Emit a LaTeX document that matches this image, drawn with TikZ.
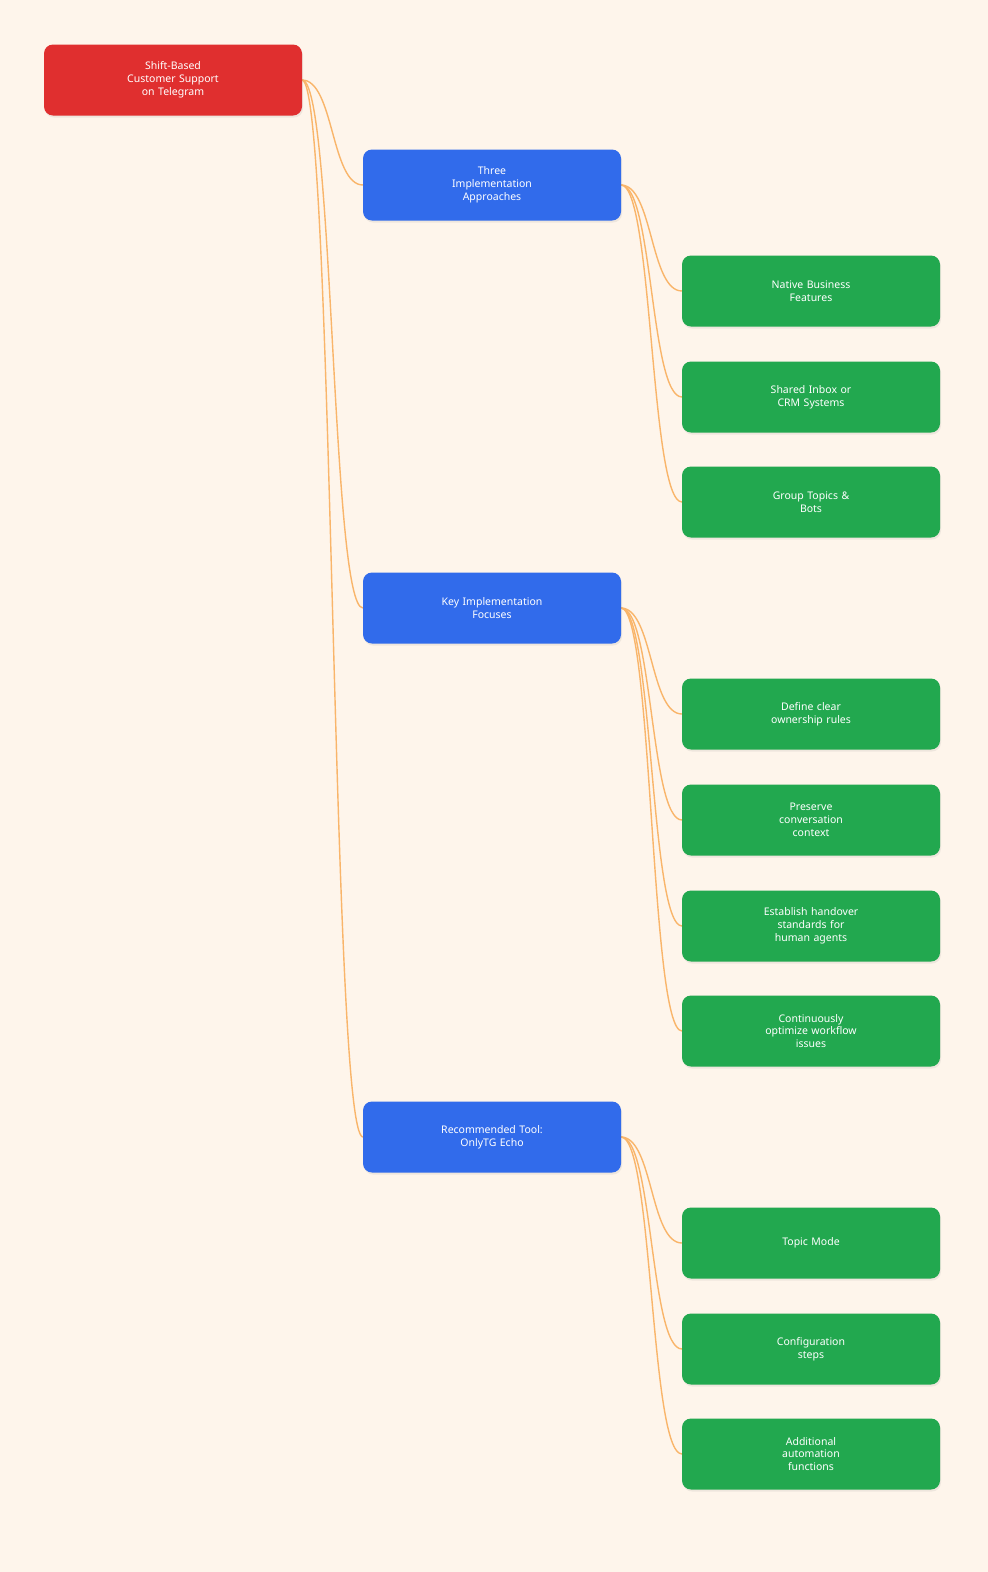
\documentclass[tikz,border=0pt]{standalone}
\usepackage{fontspec}
\setmainfont{Noto Sans}
\usepackage{xcolor}
\usetikzlibrary{shadows}
\definecolor{bg}{HTML}{FEF5EB}
\definecolor{rootred}{HTML}{E02F2F}
\definecolor{midblue}{HTML}{316BEB}
\definecolor{leafgreen}{HTML}{22A84F}
\definecolor{link}{HTML}{F9B56A}
\tikzset{
  box/.style={rounded corners=9pt,minimum width=258pt,minimum height=71pt,text width=150pt,
    align=center,text=white,font=\fontsize{10.5}{12.8}\selectfont\bfseries,
    drop shadow={opacity=0.12,shadow xshift=1pt,shadow yshift=-2pt}},
  root/.style={box,fill=rootred},
  mid/.style={box,fill=midblue},
  leaf/.style={box,fill=leafgreen},
  edge/.style={draw=link,line width=1.4pt}
}
\begin{document}
\begin{tikzpicture}[x=1pt,y=-1pt]
  \fill[bg] (0,0) rectangle (988,1572);
  \useasboundingbox (0,0) rectangle (988,1572);

  % links first, so the boxes sit on top
  \coordinate (topE) at (302,80);
  \coordinate (apprE) at (621,185);
  \coordinate (focusE) at (621,608);
  \coordinate (toolE) at (621,1137);
  \foreach \y/\n in {185/appr,608/focus,1137/tool} {
    \coordinate (\n W) at (363,\y);
    \draw[edge] (topE) .. controls +(32,0) and +(-32,0) .. (\n W);
  }
  \foreach \p/\y/\n in {appr/291/native,appr/397/inbox,appr/502/topics,
      focus/714/owner,focus/820/context,focus/926/handover,focus/1031/optimize,
      tool/1243/mode,tool/1349/config,tool/1454/extra} {
    \coordinate (\n W) at (682,\y);
    \draw[edge] (\p E) .. controls +(32,0) and +(-32,0) .. (\n W);
  }

  \node[root](top) at (173,80){Shift-Based\\Customer Support\\on Telegram};

  \node[mid](appr) at (492,185){Three\\Implementation\\Approaches};
  \node[mid](focus) at (492,608){Key Implementation\\Focuses};
  \node[mid](tool) at (492,1137){Recommended Tool:\\OnlyTG Echo};

  \node[leaf](native) at (811,291){Native Business\\Features};
  \node[leaf](inbox) at (811,397){Shared Inbox or\\CRM Systems};
  \node[leaf](topics) at (811,502){Group Topics \&\\Bots};

  \node[leaf](owner) at (811,714){Define clear\\ownership rules};
  \node[leaf](context) at (811,820){Preserve\\conversation\\context};
  \node[leaf](handover) at (811,926){Establish handover\\standards for\\human agents};
  \node[leaf](optimize) at (811,1031){Continuously\\optimize workflow\\issues};

  \node[leaf](mode) at (811,1243){Topic Mode};
  \node[leaf](config) at (811,1349){Configuration\\steps};
  \node[leaf](extra) at (811,1454){Additional\\automation\\functions};
\end{tikzpicture}
\end{document}
